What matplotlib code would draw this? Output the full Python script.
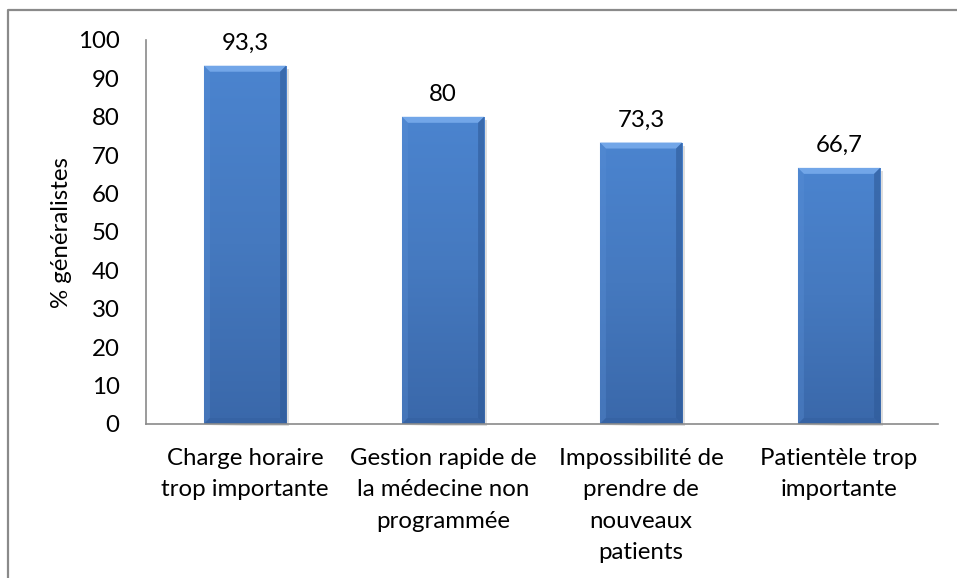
import numpy as np
import matplotlib
matplotlib.use("Agg")
import matplotlib.pyplot as plt
from matplotlib.patches import Polygon
from matplotlib.lines import Line2D
from matplotlib.colors import LinearSegmentedColormap

categories = ["Charge horaire\ntrop importante",
              "Gestion rapide de\nla médecine non\nprogrammée",
              "Impossibilité de\nprendre de\nnouveaux\npatients",
              "Patientèle trop\nimportante"]
values = [93.3, 80, 73.3, 66.7]
value_labels = ["93,3", "80", "73,3", "66,7"]
yticks = [0, 10, 20, 30, 40, 50, 60, 70, 80, 90, 100]
ylabel = "% généralistes"

plt.rcParams['font.family'] = ['Lato', 'DejaVu Sans']
FS = 17.3

W, H = 957, 578
fig = plt.figure(figsize=(W/100, H/100), dpi=100)
fig.patch.set_facecolor('white')

# outer chart border (cropped at right and bottom)
fig.add_artist(Line2D([8/W, 8/W, 1.0], [0.0, 1-10/H, 1-10/H], transform=fig.transFigure,
                      color='#8a8a8a', lw=1.6))

ax = fig.add_axes([146/W, 1-424/H, (938-146)/W, (424-40)/H])
x = np.arange(len(categories))
bw = 0.415
bars = ax.bar(x, values, width=bw, color='#4a80c8', zorder=2)
ax.set_xlim(-0.5, len(categories)-0.5)
ax.set_ylim(0, 100)

axw_px = 938-146
axh_px = 424-40
dxp = (len(categories)) / axw_px
dyp = 100 / axh_px

grad = np.linspace(0, 1, 256).reshape(-1, 1)
cmap = LinearSegmentedColormap.from_list('b', ['#3a68aa', '#4579bf', '#4b84cf'])
for b in bars:
    x0, y0 = b.get_x(), b.get_y()
    w, h = b.get_width(), b.get_height()
    ax.add_patch(Polygon([[x0+2*dxp, -2*dyp], [x0+w+3*dxp, -2*dyp], [x0+w+3*dxp, h-3*dyp],
                          [x0+w, h-3*dyp], [x0+w, 0]], closed=True,
                         facecolor='#c8c8c8', edgecolor='none', zorder=1, clip_on=False, alpha=0.6))
    im = ax.imshow(grad, extent=[x0, x0+w, y0, y0+h], origin='lower', cmap=cmap,
                   aspect='auto', zorder=3, interpolation='bilinear')
    im.set_clip_path(b)
    bv = 6
    ax.add_patch(Polygon([[x0, h], [x0+w, h], [x0+w-bv*dxp, h-bv*dyp], [x0+bv*dxp, h-bv*dyp]],
                         closed=True, facecolor='#72a6e8', edgecolor='none', zorder=4))
    ax.add_patch(Polygon([[x0, h], [x0+bv*dxp, h-bv*dyp], [x0+bv*dxp, bv*dyp], [x0, 0]],
                         closed=True, facecolor='#5a8fd6', edgecolor='none', zorder=4, alpha=0.35))
    ax.add_patch(Polygon([[x0+w, h], [x0+w-bv*dxp, h-bv*dyp], [x0+w-bv*dxp, bv*dyp], [x0+w, 0]],
                         closed=True, facecolor='#2f5a98', edgecolor='none', zorder=4, alpha=0.6))
    ax.add_patch(Polygon([[x0, 0], [x0+bv*dxp, bv*dyp], [x0+w-bv*dxp, bv*dyp], [x0+w, 0]],
                         closed=True, facecolor='#33609f', edgecolor='none', zorder=4, alpha=0.5))

for xi, v, lab in zip(x, values, value_labels):
    ax.annotate(lab, (xi, v), xytext=(0, 16), textcoords='offset points',
                ha='center', va='center', fontsize=FS, color='black')

ax.set_yticks(yticks)
ax.set_yticklabels([str(t) for t in yticks], fontsize=FS)
ax.set_xticks(x)
ax.set_xticklabels(categories, fontsize=FS, linespacing=1.62)
ax.tick_params(axis='y', length=0, pad=19)
ax.tick_params(axis='x', length=0, pad=17)
for s in ['top', 'right']:
    ax.spines[s].set_visible(False)
for s in ['left', 'bottom']:
    ax.spines[s].set_color('#8a8a8a')
    ax.spines[s].set_linewidth(1.2)
    ax.spines[s].set_zorder(5)
ax.set_ylabel(ylabel, fontsize=FS)
ax.yaxis.set_label_coords(-0.093, 0.5)

fig.savefig('out.png', dpi=100)
